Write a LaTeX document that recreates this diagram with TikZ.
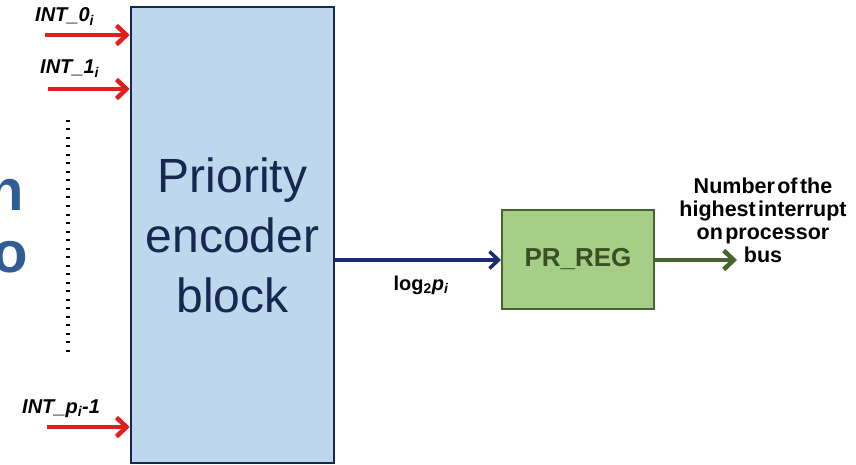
\documentclass[tikz,border=0pt]{standalone}
\usepackage{fontspec}
\setmainfont{Liberation Sans}
\newfontfamily\tightfont[WordSpace=0.4]{Liberation Sans}
\usetikzlibrary{arrows.meta,positioning}
\definecolor{encfill}{RGB}{190,215,237}
\definecolor{encline}{RGB}{22,40,80}
\definecolor{regfill}{RGB}{166,206,135}
\definecolor{regline}{RGB}{70,100,45}
\definecolor{intred}{RGB}{228,30,30}
\definecolor{busblue}{RGB}{25,45,110}
\definecolor{slideblue}{RGB}{50,92,150}

\begin{document}
\begin{tikzpicture}[x=1pt,y=-1pt,
    enc/.style={draw=encline,line width=2.5pt,fill=encfill,minimum width=203pt,minimum height=456pt,
      align=center,text=encline,font=\fontsize{48}{60}\selectfont},
    reg/.style={draw=regline,line width=2pt,fill=regfill,minimum width=152pt,minimum height=99pt,
      text=regline!80!black,font=\fontsize{26}{30}\selectfont\bfseries},
    lbl/.style={font=\fontsize{20}{22}\selectfont\bfseries\itshape,inner sep=0pt,anchor=base west},
    inarrow/.style={intred,line width=4.5pt,-{Straight Barb[length=10pt,width=19pt]}}]
    \useasboundingbox (0,0) rectangle (856,465);
    % bits of the slide text behind the picture
    \node[slideblue,font=\fontsize{58}{60}\selectfont\bfseries,inner sep=0pt,anchor=base west](n) at (-12,210){n};
    \node[slideblue,font=\fontsize{58}{60}\selectfont\bfseries,inner sep=0pt,anchor=base west](o) at (-8,272){o};
    \node[enc](enc) at (232.5,235){Priority\\encoder\\block};
    \node[reg](reg) at (578,259.5){PR\_REG};
    % interrupt inputs
    \coordinate(s0) at (45,35);
    \coordinate(s1) at (48,89);
    \coordinate(sp) at (47,427);
    \node[lbl](l0) at (35,22){INT\_0\textsubscript{i}};
    \node[lbl](l1) at (40,74){INT\_1\textsubscript{i}};
    \node[lbl](lp) at (22,413){INT\_p\textsubscript{i}-1};
    \draw[inarrow](s0) -- (s0 -| enc.west);
    \draw[inarrow](s1) -- (s1 -| enc.west);
    \draw[inarrow](sp) -- (sp -| enc.west);
    \coordinate(d0) at (68,120);
    \coordinate(d1) at (68,355);
    \draw[black,line width=4.5pt,dash pattern=on 2pt off 6.5pt](d0) -- (d1);
    % encoder to register
    \coordinate(e0) at (enc.east |- 0,260);
    \draw[busblue,line width=3.5pt,-{Straight Barb[length=9pt,width=17pt]}](e0) -- (e0 -| reg.west);
    \node[font=\fontsize{20}{22}\selectfont\bfseries,inner sep=0pt,anchor=base](lg) at (421,290){log\textsubscript{2}\textit{p\textsubscript{i}}};
    % register output
    \node[font=\tightfont\fontsize{21.5}{23}\selectfont\bfseries,align=center,inner sep=0pt](out) at (763,220){Number of the\\highest interrupt\\on processor\\bus};
    \coordinate(r0) at (reg.east |- 0,260);
    \coordinate(r1) at (737,260);
    \draw[regline,line width=4.5pt,-{Straight Barb[length=10pt,width=19pt]}](r0) -- (r1);
\end{tikzpicture}
\end{document}
